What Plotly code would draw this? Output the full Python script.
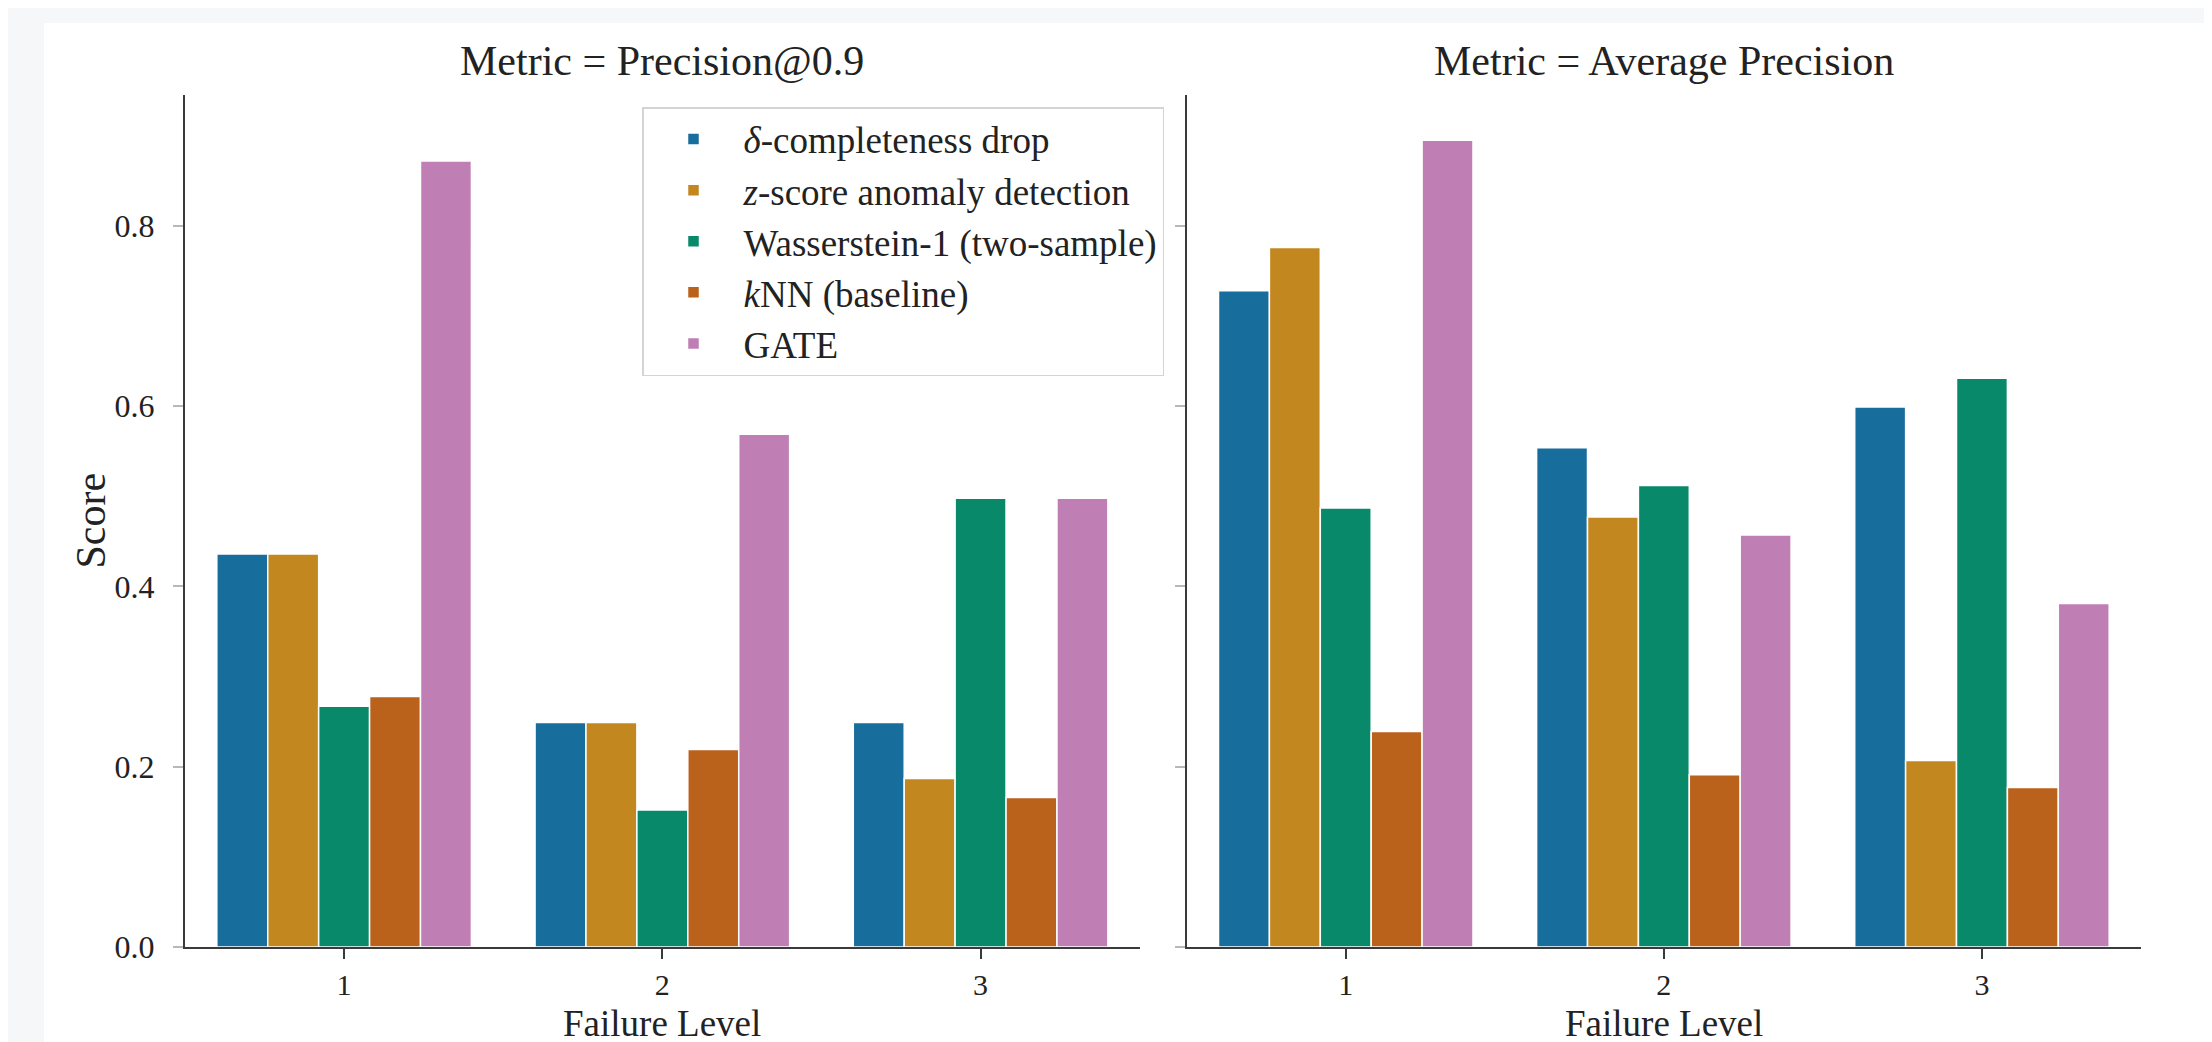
import plotly.graph_objects as go

# ---- data ----
levels = ["1", "2", "3"]
methods = [
    "<i>δ</i>-completeness drop",
    "<i>z</i>-score anomaly detection",
    "Wasserstein-1 (two-sample)",
    "<i>k</i>NN (baseline)",
    "GATE",
]
colors = ["#176d9c", "#c3871f", "#07896a", "#ba611b", "#c07fb4"]

prec_delta = [0.436, 0.249, 0.249]
prec_z = [0.436, 0.249, 0.187]
prec_wass = [0.267, 0.152, 0.498]
prec_knn = [0.278, 0.219, 0.166]
prec_gate = [0.872, 0.569, 0.498]

ap_delta = [0.728, 0.554, 0.599]
ap_z = [0.776, 0.477, 0.207]
ap_wass = [0.487, 0.512, 0.631]
ap_knn = [0.239, 0.191, 0.177]
ap_gate = [0.895, 0.457, 0.381]

panel_titles = ["Metric = Precision@0.9", "Metric = Average Precision"]
x_title = "Failure Level"
y_title = "Score"
y_ticks = [0.0, 0.2, 0.4, 0.6, 0.8]

prec_series = [prec_delta, prec_z, prec_wass, prec_knn, prec_gate]
ap_series = [ap_delta, ap_z, ap_wass, ap_knn, ap_gate]

FONT = "Liberation Serif"
W, H = 2212, 1042
ML, MR, MT, MB = 177, 79, 87, 103
PW = W - ML - MR
PH = H - MT - MB


def px_x(px):
    return (px - ML) / PW


def px_y(py):
    return (H - MB - py) / PH


fig = go.Figure()

for i, (name, col) in enumerate(zip(methods, colors)):
    fig.add_trace(go.Bar(
        x=levels, y=prec_series[i], name=name, marker_color=col,
        marker_line_color="white", marker_line_width=1.5,
        xaxis="x", yaxis="y", legendgroup=f"g{i}", showlegend=True,
    ))
for i, (name, col) in enumerate(zip(methods, colors)):
    fig.add_trace(go.Bar(
        x=levels, y=ap_series[i], name=name, marker_color=col,
        marker_line_color="white", marker_line_width=1.5,
        xaxis="x2", yaxis="y2", legendgroup=f"g{i}", showlegend=False,
    ))

left_end = px_x(1131.7)
right_start = px_x(1178.7)

axis_common = dict(
    showgrid=False, zeroline=False, showline=True, linecolor="#3a3a3a",
    linewidth=2, ticks="outside", ticklen=10, tickwidth=1.5,
)
yfont = dict(family=FONT, size=32, color="#222")
xfont = dict(family=FONT, size=30, color="#222")

fig.update_layout(
    width=W, height=H,
    margin=dict(l=ML, r=MR, t=MT, b=MB, autoexpand=False),
    paper_bgcolor="#f6f7f9",
    plot_bgcolor="rgba(0,0,0,0)",
    barmode="group", bargap=0.2, bargroupgap=0.0,
    font=dict(family=FONT, color="#222"),
    xaxis=dict(domain=[0, left_end], range=[-0.5, 2.5], type="category",
               tickcolor="#3a3a3a", tickfont=xfont, **axis_common),
    xaxis2=dict(domain=[right_start, 1], range=[-0.5, 2.5], type="category",
                tickcolor="#3a3a3a", anchor="y2", tickfont=xfont, **axis_common),
    yaxis=dict(range=[0, 0.9453], tickvals=y_ticks, tickformat=".1f",
               tickcolor="#b8b8b8", ticklabelstandoff=12, tickfont=yfont,
               **axis_common),
    yaxis2=dict(range=[0, 0.9453], tickvals=y_ticks, showticklabels=False,
                tickcolor="#b8b8b8", anchor="x2", matches="y", tickfont=yfont,
                **axis_common),
    legend=dict(
        x=px_x(634), y=px_y(99), xanchor="left", yanchor="top",
        bgcolor="white", bordercolor="#d4d4d4", borderwidth=1.5,
        font=dict(family=FONT, size=37, color="#222"),
        itemwidth=90, tracegroupgap=4, traceorder="normal",
    ),
    shapes=[dict(
        type="rect", xref="paper", yref="paper",
        x0=px_x(36), x1=px_x(2199), y0=-0.3, y1=px_y(15),
        fillcolor="white", line=dict(width=0), layer="below",
    )],
)

annotations = []
for title, cx in zip(panel_titles, [px_x(654), px_x(1656)]):
    annotations.append(dict(
        text=title, x=cx, y=px_y(53), xref="paper", yref="paper",
        xanchor="center", yanchor="middle", showarrow=False,
        font=dict(family=FONT, size=42, color="#222"),
    ))
    annotations.append(dict(
        text=x_title, x=cx, y=px_y(1016), xref="paper", yref="paper",
        xanchor="center", yanchor="middle", showarrow=False,
        font=dict(family=FONT, size=37, color="#222"),
    ))
annotations.append(dict(
    text=y_title, x=px_x(82.5), y=px_y(513), xref="paper", yref="paper",
    xanchor="center", yanchor="middle", showarrow=False, textangle=-90,
    font=dict(family=FONT, size=42, color="#222"),
))
fig.update_layout(annotations=annotations)

fig.write_html("out.html")
